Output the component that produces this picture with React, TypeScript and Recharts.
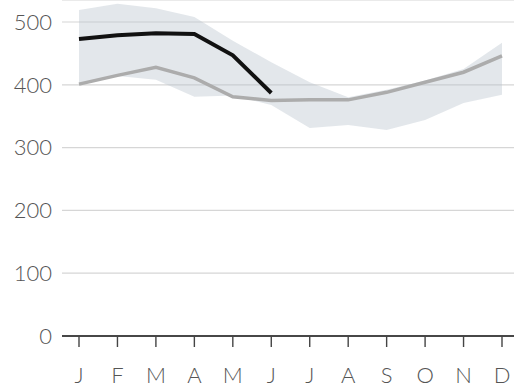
import React from 'react';
import { ComposedChart, Area, Line, XAxis, YAxis, CartesianGrid } from 'recharts';

const months = ['J', 'F', 'M', 'A', 'M', 'J', 'J', 'A', 'S', 'O', 'N', 'D'];
const rangeLow = [400, 414, 408, 381, 383, 368, 331, 336, 328, 344, 371, 384];
const rangeHigh = [519, 529, 522, 508, 470, 436, 404, 380, 392, 407, 425, 467];
const average = [401, 415, 428, 411, 381, 375, 376, 376, 388, 404, 420, 446];
const thisYear = [473, 479, 482, 481, 447, 387, null, null, null, null, null, null];
const yTicks = [0, 100, 200, 300, 400, 500];

const data = months.map((m, i) => ({
  idx: i,
  range: [rangeLow[i], rangeHigh[i]],
  average: average[i],
  current: thisYear[i],
}));
const xTicks = months.map((_, i) => i);

const font = 'Lato, "Open Sans", sans-serif';

export default function App() {
  return (
    <div style={{ position: 'absolute', left: 0, top: 0, width: 514, height: 387, background: '#fff' }}>
      <ComposedChart width={514} height={387} data={data} margin={{ top: 0, right: 0, bottom: 0, left: 0 }}>
        <CartesianGrid vertical={false} stroke="#d6d6d6" strokeWidth={1.2} />
        <XAxis
          dataKey="idx"
          type="number"
          domain={[0, 11]}
          ticks={xTicks}
          tickFormatter={(i: number) => months[i]}
          padding={{ left: 17, right: 12 }}
          height={51}
          axisLine={{ stroke: '#111', strokeWidth: 1.6 }}
          tickLine={{ stroke: '#444', strokeWidth: 1.4 }}
          tickSize={11}
          tickMargin={20}
          tick={{ fill: '#555', fontSize: 22, fontFamily: font, fontWeight: 300 }}
          interval={0}
        />
        <YAxis
          domain={[0, 535]}
          ticks={yTicks}
          width={62}
          axisLine={false}
          tickLine={false}
          tickSize={0}
          tickMargin={10}
          tick={{ fill: '#555', fontSize: 22, fontFamily: font, fontWeight: 300 }}
        />
        <Area
          dataKey="range"
          type="linear"
          stroke="none"
          fill="#b9c4cc"
          fillOpacity={0.4}
          isAnimationActive={false}
        />
        <Line
          dataKey="average"
          type="linear"
          stroke="#acacac"
          strokeWidth={3.5}
          dot={false}
          isAnimationActive={false}
        />
        <Line
          dataKey="current"
          type="linear"
          stroke="#111"
          strokeWidth={4}
          dot={false}
          connectNulls={false}
          isAnimationActive={false}
        />
      </ComposedChart>
    </div>
  );
}
